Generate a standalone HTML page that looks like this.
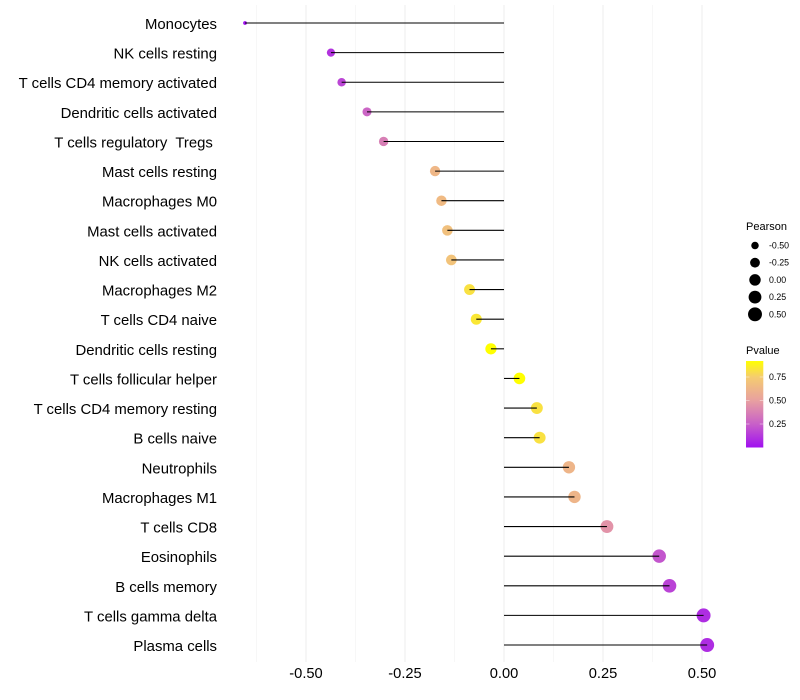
<!DOCTYPE html>
<html lang="en">
<head>
<meta charset="utf-8">
<title>Immune cell correlation lollipop chart</title>
<style>
html,body{margin:0;padding:0;background:#fff;}
svg{display:block;font-family:"Liberation Sans",Arial,sans-serif;}
text{white-space:pre;}
</style>
</head>
<body>
<svg id="chart" width="800" height="700" viewBox="0 0 800 700" xmlns="http://www.w3.org/2000/svg">
  <defs>
    <linearGradient id="pvalue-gradient" x1="0" y1="1" x2="0" y2="0"></linearGradient>
  </defs>
  <g id="grid"></g>
  <g id="stems"></g>
  <g id="yaxis"></g>
  <g id="xaxis"></g>
  <g id="legend-size"></g>
  <g id="legend-color"></g>
</svg>
<script>
const categories = ["Monocytes","NK cells resting","T cells CD4 memory activated","Dendritic cells activated","T cells regulatory  Tregs ","Mast cells resting","Macrophages M0","Mast cells activated","NK cells activated","Macrophages M2","T cells CD4 naive","Dendritic cells resting","T cells follicular helper","T cells CD4 memory resting","B cells naive","Neutrophils","Macrophages M1","T cells CD8","Eosinophils","B cells memory","T cells gamma delta","Plasma cells"];
const pearson = [-0.654,-0.437,-0.41,-0.346,-0.304,-0.174,-0.158,-0.143,-0.133,-0.087,-0.07,-0.033,0.039,0.083,0.09,0.164,0.178,0.26,0.392,0.418,0.504,0.513];
const pvalue = [0.0,0.11,0.17,0.27,0.37,0.63,0.65,0.68,0.7,0.82,0.84,0.92,0.92,0.82,0.82,0.62,0.62,0.45,0.22,0.16,0.09,0.09];
const xMajorTicks = [-0.5,-0.25,0,0.25,0.5];
const xMinorTicks = [-0.625,-0.375,-0.125,0.125,0.375];
const xTickLabels = ["-0.50","-0.25","0.00","0.25","0.50"];
const sizeLegendValues = [-0.5,-0.25,0,0.25,0.5];
const sizeLegendLabels = ["-0.50","-0.25","0.00","0.25","0.50"];
const colorLegendValues = [0.25,0.5,0.75];
const colorLegendLabels = ["0.25","0.50","0.75"];
const colorStopValues = [0,0.25,0.5,0.75,0.92];
const colorStopColors = ["#a010f0","#c860c8","#e8a0a0","#f5cc70","#ffff00"];

const NS = "http://www.w3.org/2000/svg";
const xScale = v => 504 + v * 396;
const yScale = i => 23 + i * 29.62;
const minP = Math.min(...pearson), maxP = Math.max(...pearson);
const rScale = v => 1.9 + 5.1 * Math.sqrt(Math.max(0, (v - minP) / (maxP - minP)));
const hex = s => [1,3,5].map(k => parseInt(s.substr(k,2),16));
function colorScale(p){
  let i = 0;
  while (i < colorStopValues.length - 2 && p > colorStopValues[i+1]) i++;
  const t = Math.min(1, Math.max(0, (p - colorStopValues[i]) / (colorStopValues[i+1] - colorStopValues[i])));
  const a = hex(colorStopColors[i]), b = hex(colorStopColors[i+1]);
  return "rgb(" + a.map((c,k) => Math.round(c + (b[k]-c)*t)).join(",") + ")";
}
function mk(tag, attrs, parent, txt){
  const el = document.createElementNS(NS, tag);
  for (const k in attrs) el.setAttribute(k, attrs[k]);
  if (txt !== undefined) el.textContent = txt;
  parent.appendChild(el);
  return el;
}
const grid = document.getElementById("grid");
const stems = document.getElementById("stems");
const yaxis = document.getElementById("yaxis");
const xaxis = document.getElementById("xaxis");
const legendSize = document.getElementById("legend-size");
const legendColor = document.getElementById("legend-color");

xMinorTicks.forEach(v => {
  const el = mk("line", {x1:xScale(v),x2:xScale(v),y1:5,y2:662,stroke:"#f0f0f0","stroke-width":0.55}, grid);
  
  
});
xMajorTicks.forEach((v,i) => {
  const el = mk("line", {x1:xScale(v),x2:xScale(v),y1:5,y2:662,stroke:"#eeeeee","stroke-width":1.07}, grid);
  
  
  const t = mk("text", {x:xScale(v),y:678,"text-anchor":"middle","font-size":14.67,fill:"#000"}, xaxis, xTickLabels[i]);
  
  
});
categories.forEach((c,i) => {
  const y = yScale(i);
  const dot = mk("circle", {cx:xScale(pearson[i]),cy:y,r:rScale(pearson[i]),fill:colorScale(pvalue[i])}, stems);
  
  
  const seg = mk("line", {x1:xScale(0),x2:xScale(pearson[i]),y1:y,y2:y,stroke:"#000","stroke-width":1.07}, stems);
  
  
  const t = mk("text", {x:217,y:y+6,"text-anchor":"end","font-size":14.9,fill:"#000"}, yaxis, c);
  
  
});

const sizeTitle = mk("text", {x:746,y:230,"font-size":11,fill:"#000"}, legendSize, "Pearson");


sizeLegendValues.forEach((v,i) => {
  const y = 245.5 + i * 17.2;
  const dot = mk("circle", {cx:755,cy:y,r:rScale(v),fill:"#000"}, legendSize);
  
  
  const t = mk("text", {x:769,y:y+3,"font-size":8.8,fill:"#000"}, legendSize, sizeLegendLabels[i]);
  
  
});

const colorTitle = mk("text", {x:746,y:354,"font-size":11,fill:"#000"}, legendColor, "Pvalue");


const grad = document.getElementById("pvalue-gradient");
colorStopValues.forEach((p,i) => {
  mk("stop", {offset:(p / 0.92),"stop-color":colorStopColors[i]}, grad);
});
const colorY = p => 447.5 - p * 94;
const bar = mk("rect", {x:746,y:colorY(0.92),width:17.3,height:colorY(0)-colorY(0.92),fill:"url(#pvalue-gradient)"}, legendColor);


colorLegendValues.forEach((p,i) => {
  const y = colorY(p);
  const l = mk("line", {x1:746,x2:749.5,y1:y,y2:y,stroke:"#fff","stroke-opacity":0.6,"stroke-width":0.7}, legendColor);
  
  
  const r = mk("line", {x1:759.8,x2:763.3,y1:y,y2:y,stroke:"#fff","stroke-opacity":0.6,"stroke-width":0.7}, legendColor);
  
  
  const t = mk("text", {x:769,y:y+3,"font-size":8.8,fill:"#000"}, legendColor, colorLegendLabels[i]);
  
  
});
</script>
</body>
</html>
